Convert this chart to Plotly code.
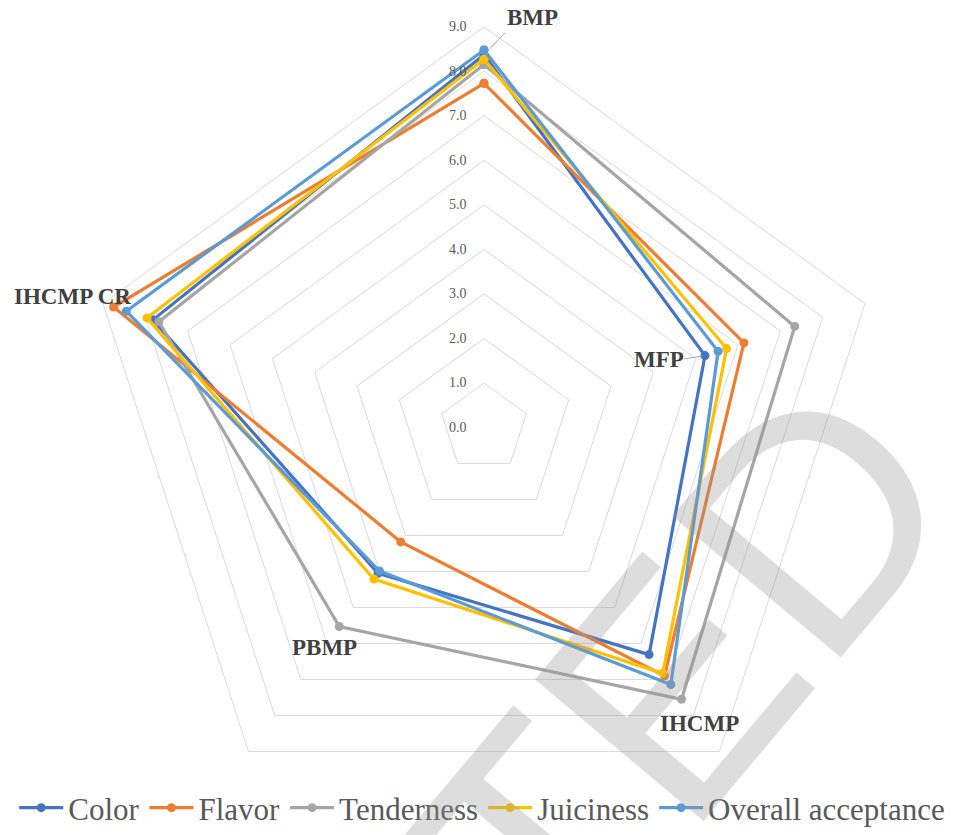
import plotly.graph_objects as go

# Sensory attributes (angular categories), clockwise from the top
categories = ["BMP", "MFP", "IHCMP", "PBMP", "IHCMP CR"]

# Mean sensory scores per attribute
color_scores = [8.37, 5.22, 6.31, 4.05, 7.82]
flavor_scores = [7.73, 6.14, 6.90, 3.18, 8.75]
tenderness_scores = [8.15, 7.34, 7.55, 5.53, 7.68]
juiciness_scores = [8.27, 5.73, 6.83, 4.21, 7.96]
overall_scores = [8.48, 5.53, 7.14, 3.99, 8.45]

series_names = ["Color", "Flavor", "Tenderness", "Juiciness", "Overall acceptance"]
series_values = [color_scores, flavor_scores, tenderness_scores,
                 juiciness_scores, overall_scores]
series_colors = ["#4472C4", "#ED7D31", "#A5A5A5", "#FFC000", "#5B9BD5"]

radial_ticks = [0, 1, 2, 3, 4, 5, 6, 7, 8, 9]

W, H = 953, 835
SERIF = "Liberation Serif"

fig = go.Figure()

for name, vals, col in zip(series_names, series_values, series_colors):
    fig.add_trace(go.Scatterpolar(
        r=vals + vals[:1],
        theta=categories + categories[:1],
        mode="lines+markers",
        name=name,
        line=dict(color=col, width=3.2),
        marker=dict(color=col, size=9),
        cliponaxis=False,
    ))

# polar area: centre near (484, 432) px, outer radius ~404 px
top_px = 27
dom_y = [0.0, 1 - top_px / H]
half = 410
cx = 484
fig.update_layout(
    width=W, height=H,
    margin=dict(l=0, r=0, t=0, b=0),
    paper_bgcolor="white",
    polar=dict(
        domain=dict(x=[(cx - half) / W, (cx + half) / W], y=dom_y),
        bgcolor="rgba(0,0,0,0)",
        gridshape="linear",
        radialaxis=dict(
            range=[0, 9],
            tickvals=radial_ticks,
            ticktext=[f"{v:.1f}" for v in radial_ticks],
            angle=90,
            side="counterclockwise",
            tickangle=90,
            showline=False,
            ticks="outside",
            ticklen=12,
            tickcolor="rgba(0,0,0,0)",
            showgrid=True,
            gridcolor="#d9d9d9",
            gridwidth=1,
            tickfont=dict(family=SERIF, size=14, color="#595959"),
        ),
        angularaxis=dict(
            direction="clockwise",
            rotation=90,
            showgrid=False,
            showline=True,
            linecolor="#d9d9d9",
            linewidth=1,
            showticklabels=False,
            ticks="",
        ),
    ),
    showlegend=True,
    legend=dict(
        orientation="h",
        x=0.506, xanchor="center",
        y=1 - 815 / H, yanchor="middle",
        font=dict(family=SERIF, size=31, color="#595959"),
        bgcolor="rgba(0,0,0,0)",
        traceorder="normal",
        itemwidth=44,
    ),
)

# category labels with short leader lines
label_font = dict(family=SERIF, size=23, color="#404040")
label_pos = {
    "BMP": (532, 18),
    "MFP": (659, 363),
    "IHCMP": (699, 730),
    "PBMP": (324, 653),
    "IHCMP CR": (72, 299),
}
for text, (px, py) in label_pos.items():
    fig.add_annotation(
        x=px / W, y=1 - py / H, xref="paper", yref="paper",
        text=f"<b>{text}</b>", showarrow=False,
        xanchor="center", yanchor="middle", font=label_font,
    )

leaders = [((505, 33), (490, 49)), ((684, 362), (702, 359))]
for (x0, y0), (x1, y1) in leaders:
    fig.add_shape(type="line", xref="paper", yref="paper",
                  x0=x0 / W, y0=1 - y0 / H, x1=x1 / W, y1=1 - y1 / H,
                  line=dict(color="#a6a6a6", width=1))

# diagonal watermark
fig.add_annotation(
    x=327 / W, y=1 - 1106 / H, xref="paper", yref="paper",
    text="ACCEPTED", showarrow=False, textangle=-50,
    xanchor="center", yanchor="middle",
    font=dict(family="Liberation Sans", size=320, color="rgba(150,150,150,0.32)"),
)

fig.write_html("out.html")
